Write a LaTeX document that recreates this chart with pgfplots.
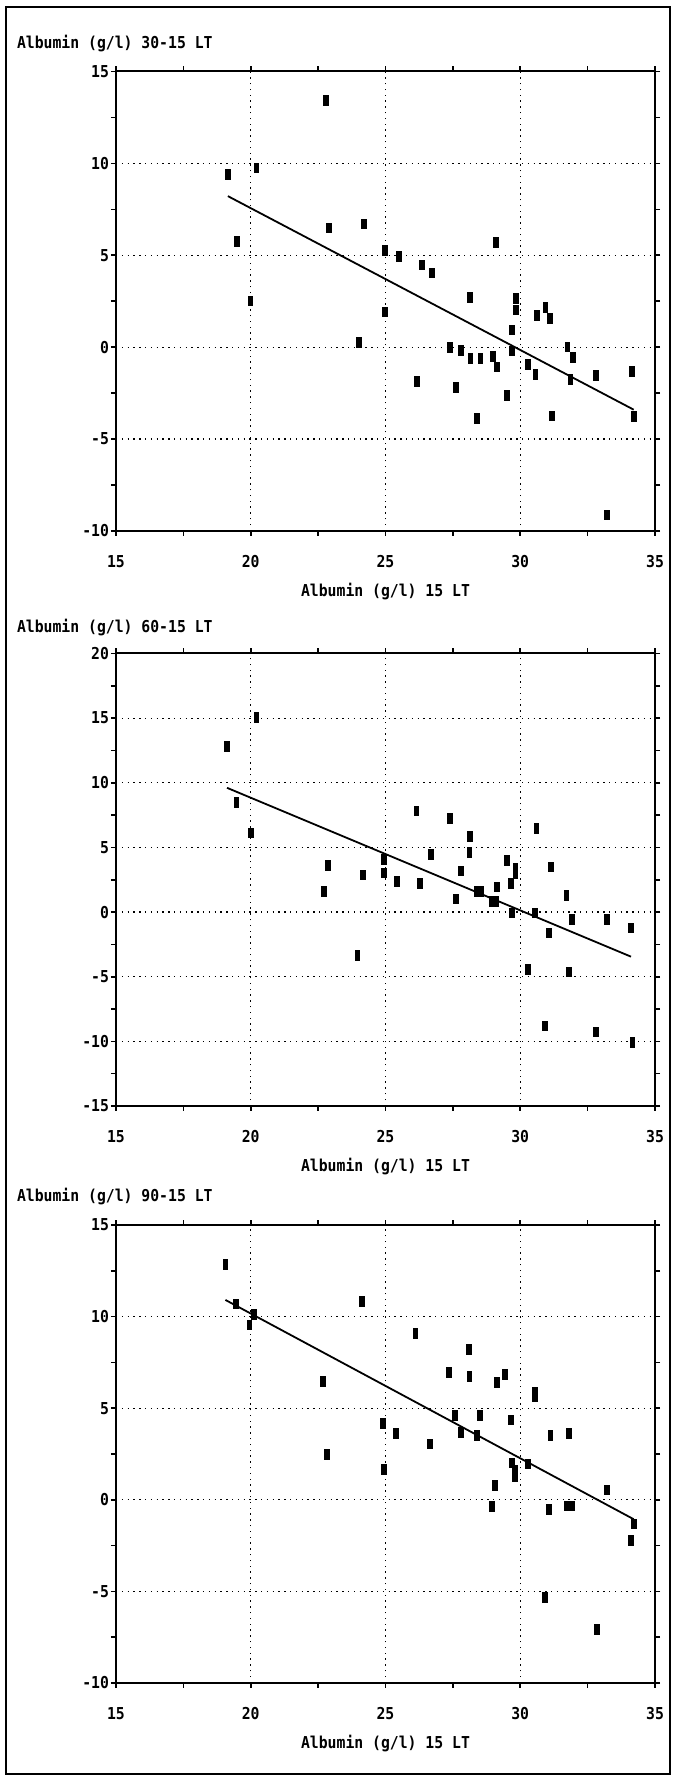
\documentclass[border=0pt]{standalone}
\usepackage{fontspec}
\setmainfont{DejaVu Sans Mono}[FakeStretch=0.9]
\usepackage{pgfplots}
\pgfplotsset{compat=1.18}
\newcommand\dos{\bfseries\fontsize{8.2pt}{10pt}\selectfont}
\pgfplotsset{
  albstyle/.style={
    scale only axis, width=269.5pt, anchor=south west,
    xmin=15, xmax=35, xtick={15,20,25,30,35}, xticklabels={15,20,25,30,35},
    minor x tick num=1, minor y tick num=1,
    tick align=outside, major tick length=2.5pt, minor tick length=2.5pt,
    every tick/.style={black, line width=0.8pt},
    grid=major, major grid style={black, line width=0.6pt, dash pattern=on 0.7pt off 2.2pt},
    axis line style={line width=1pt},
    xticklabel style={font=\dos, anchor=center, yshift=-13pt},
    yticklabel style={font=\dos, anchor=east, xshift=2.5pt},
    xlabel={Albumin (g/l) 15 LT},
    every axis x label/.style={at={(axis description cs:0.5,0)}, anchor=center, yshift=-30.5pt, font=\dos},
    clip=false,
  },
  pts/.style={only marks, mark=square*, mark size=2.4pt, mark options={xscale=0.5, fill=black, draw=none}},
  regl/.style={no marks, black, line width=0.9pt},
}
\begin{document}
\begin{tikzpicture}
\useasboundingbox (0,0) rectangle (337pt,889pt);
\draw[line width=1pt] (3pt,2pt) rectangle (335pt,885.5pt);
% Panel 1
\node[anchor=west, font=\dos] at (5pt,867pt) {Albumin (g/l) 30-15 LT};
\begin{axis}[albstyle, at={(58pt,623.5pt)}, height=229.75pt,
  ymin=-10, ymax=15, ytick={-10,-5,0,5,10,15}, yticklabels={-10,-5,0,5,10,15}]
\addplot[pts] coordinates {
(19.14,9.40) (20.21,9.75) (22.80,13.44) (19.49,5.77) (22.91,6.49) (24.21,6.70)
(19.99,2.51) (24.98,5.25) (25.51,4.94) (24.98,1.93) (24.0,0.25) (26.36,4.48)
(26.71,4.05) (26.16,-1.85) (27.39,0) (27.6,-2.18) (27.81,-0.19) (28.14,2.70)
(28.15,-0.62) (28.52,-0.62) (28.38,-3.86) (28.98,-0.5) (29.14,-1.08) (29.10,5.71)
(29.49,-2.63) (29.69,0.93) (29.69,-0.21) (29.85,2.66) (29.85,2.03) (30.29,-0.93)
(30.61,1.72) (30.56,-1.49) (30.93,2.18) (31.09,1.58) (31.16,-3.73) (31.75,0.02)
(31.94,-0.56) (31.86,-1.76) (32.81,-1.54) (33.21,-9.13) (34.14,-1.33) (34.21,-3.78)
};
\addplot[regl] coordinates {(19.15,8.22) (34.21,-3.40)};
\end{axis}
% Panel 2
\node[anchor=west, font=\dos] at (5pt,575pt) {Albumin (g/l) 60-15 LT};
\begin{axis}[albstyle, at={(58pt,336pt)}, height=226.25pt,
  ymin=-15, ymax=20, ytick={-15,-10,-5,0,5,10,15,20}, yticklabels={-15,-10,-5,0,5,10,15,20}]
\addplot[pts] coordinates {
(19.12,12.83) (20.21,15.04) (19.47,8.49) (20.0,6.13) (22.70,1.59) (22.87,3.63)
(24.15,2.89) (23.96,-3.36) (24.93,4.07) (24.93,3.04) (25.42,2.39) (26.15,7.84)
(26.29,2.24) (26.67,4.45) (27.40,7.25) (27.62,1.03) (27.80,3.18) (28.14,5.84)
(28.11,4.60) (28.40,1.62) (28.55,1.62) (28.95,0.83) (29.10,0.83) (29.14,1.95)
(29.49,3.98) (29.66,2.24) (29.68,-0.06) (29.82,3.39) (29.82,2.98) (30.28,-4.42)
(30.53,-0.06) (30.60,6.49) (30.91,-8.82) (31.07,-1.62) (31.15,3.48) (31.71,1.27)
(31.82,-4.63) (31.91,-0.56) (32.82,-9.26) (33.21,-0.56) (34.11,-1.24) (34.16,-10.09)
};
\addplot[regl] coordinates {(19.12,9.61) (34.11,-3.45)};
\end{axis}
% Panel 3
\node[anchor=west, font=\dos] at (5pt,290.5pt) {Albumin (g/l) 90-15 LT};
\begin{axis}[albstyle, at={(58pt,47.5pt)}, height=229pt,
  ymin=-10, ymax=15, ytick={-10,-5,0,5,10,15}, yticklabels={-10,-5,0,5,10,15}]
\addplot[pts] coordinates {
(19.06,12.86) (19.44,10.70) (20.11,10.12) (19.95,9.54) (24.11,10.83) (22.68,6.46)
(22.83,2.47) (24.91,4.16) (24.94,1.66) (25.40,3.62) (26.11,9.08) (26.65,3.05)
(27.36,6.94) (27.58,4.61) (27.79,3.68) (28.08,8.21) (28.11,6.73) (28.38,3.51)
(28.49,4.61) (28.96,-0.37) (29.07,0.77) (29.12,6.42) (29.44,6.86) (29.64,4.36)
(29.70,2.02) (29.81,1.60) (29.81,1.29) (30.29,1.95) (30.54,5.90) (30.54,5.65)
(31.06,-0.54) (31.12,3.51) (30.92,-5.34) (31.73,-0.33) (31.92,-0.33) (31.81,3.64)
(32.83,-7.09) (33.21,0.54) (34.10,-2.20) (34.21,-1.31)
};
\addplot[regl] coordinates {(19.06,10.91) (34.21,-1.06)};
\end{axis}
\end{tikzpicture}
\end{document}
